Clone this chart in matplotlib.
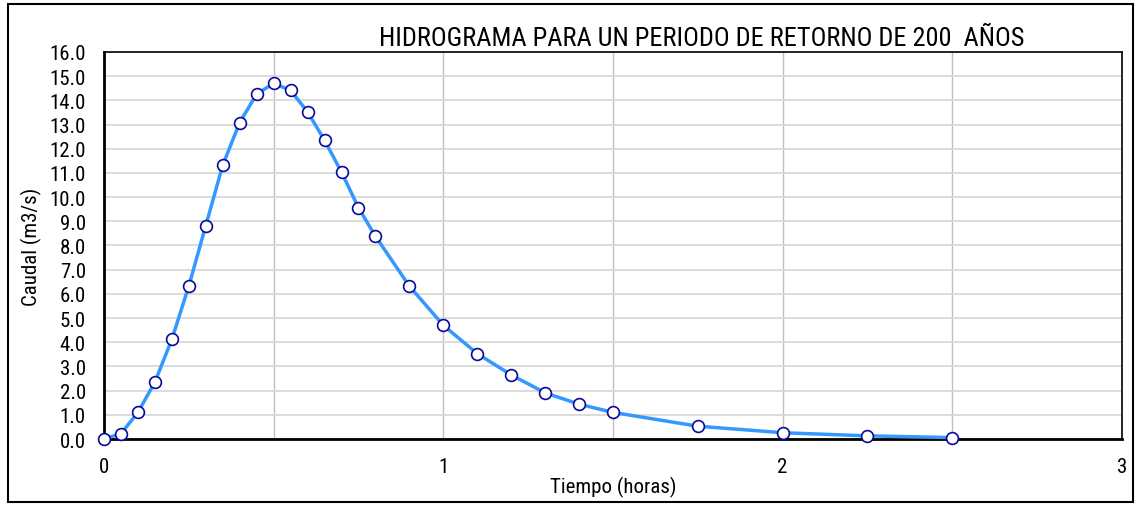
import numpy as np
import matplotlib.pyplot as plt
from matplotlib.patches import Rectangle

# hidrograma - valores
tiempo = [0, 0.05, 0.1, 0.15, 0.2, 0.25, 0.3, 0.35, 0.4, 0.45, 0.5, 0.55, 0.6, 0.65,
          0.7, 0.75, 0.8, 0.9, 1.0, 1.1, 1.2, 1.3, 1.4, 1.5, 1.75, 2.0, 2.25, 2.5]
caudal = [0.0, 0.22, 1.10, 2.35, 4.12, 6.32, 8.82, 11.32, 13.08, 14.26, 14.70, 14.41, 13.52, 12.35,
          11.03, 9.56, 8.38, 6.32, 4.70, 3.53, 2.65, 1.91, 1.44, 1.10, 0.53, 0.26, 0.13, 0.06]

x_ticks = [0, 1, 2, 3]
y_ticks = np.arange(0, 16.5, 1.0)

plt.rcParams['font.family'] = ['Roboto Condensed', 'DejaVu Sans']

fig = plt.figure(figsize=(11.4, 5.06), dpi=100)
ax = fig.add_axes([0.0912, 0.1304, 0.893, 0.765])

# marco exterior
fig.patches.append(Rectangle((8/1140, 3/506), 1125/1140, 498/506, transform=fig.transFigure,
                             fill=False, edgecolor='black', linewidth=1.5))

ax.plot(tiempo, caudal, color='#3399FF', linewidth=2.5, zorder=3, clip_on=False,
        marker='o', markersize=8.5, markerfacecolor='white',
        markeredgecolor='#0A0A9A', markeredgewidth=1.2)

ax.set_xlim(0, 3)
ax.set_ylim(0, 16)
ax.set_xticks(x_ticks)
ax.set_xticks(np.arange(0.5, 3, 0.5), minor=True)
ax.set_yticks(y_ticks)
ax.set_yticklabels([f'{v:.1f}' for v in y_ticks])
ax.grid(axis='y', color='#D9D9D9', linewidth=1.3)
ax.grid(axis='x', which='both', color='#C0C0C0', linewidth=1.0)
ax.set_axisbelow(True)
ax.tick_params(axis='both', which='both', length=0, labelsize=15)
ax.tick_params(axis='x', pad=13)
ax.tick_params(axis='y', pad=13)
for s in ax.spines.values():
    s.set_linewidth(1.2)
ax.spines['left'].set_linewidth(2)
ax.spines['bottom'].set_linewidth(2)

ax.set_xlabel('Tiempo (horas)', fontsize=15, labelpad=0)
ax.set_ylabel('Caudal (m3/s)', fontsize=15, labelpad=5)
fig.text(0.616, 0.923, 'HIDROGRAMA PARA UN PERIODO DE RETORNO DE 200  AÑOS',
         ha='center', va='center', fontsize=19)

plt.savefig('out.png', dpi=100)
